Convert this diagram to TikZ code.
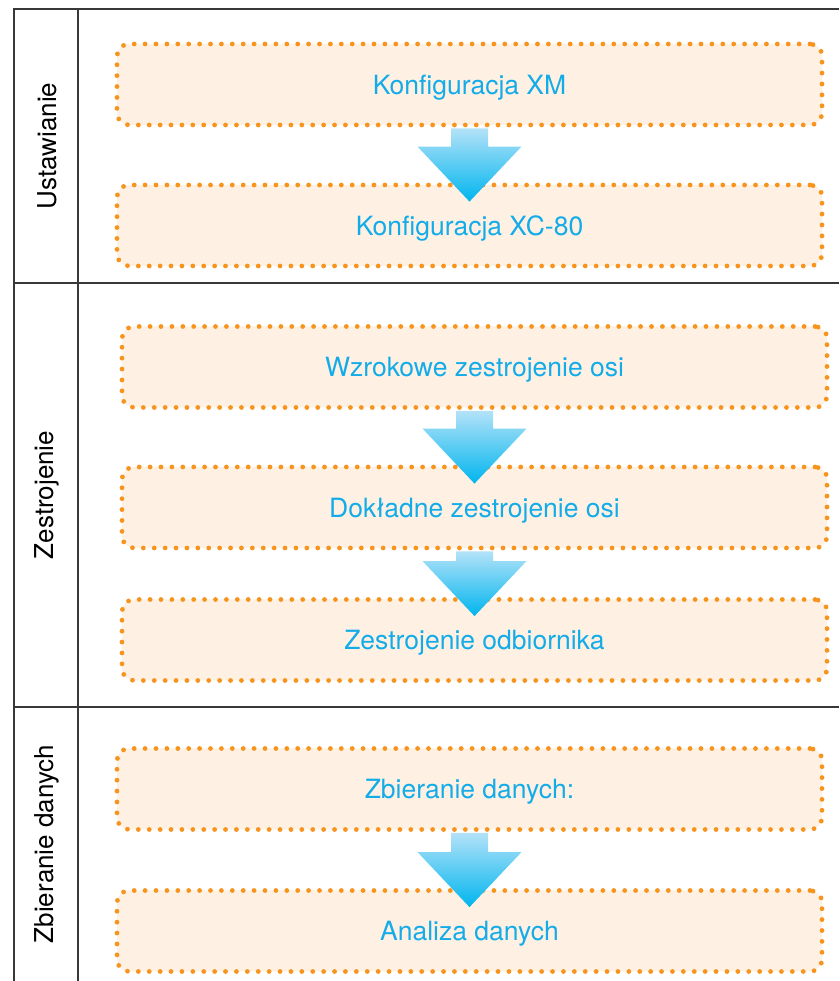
\documentclass[tikz,border=0pt]{standalone}
\usepackage{fontspec}
\setmainfont{TeX Gyre Heros}
\usetikzlibrary{calc}
\definecolor{boxfill}{HTML}{FEF1E3}
\definecolor{boxline}{HTML}{F7941D}
\definecolor{txtcyan}{HTML}{13ACE8}
\definecolor{arrtop}{HTML}{B3E2F8}
\definecolor{arrbot}{HTML}{00B5EE}
\definecolor{frameline}{HTML}{383838}
\tikzset{
  stepbox/.style={rectangle, rounded corners=12pt, fill=boxfill, draw=boxline,
    line width=4.8pt, dash pattern=on 0pt off 10.9pt, line cap=round,
    minimum width=705pt, minimum height=81pt, inner sep=0pt,
    text height=20pt, text depth=0pt,
    text=txtcyan, font=\fontsize{26.5}{31}\selectfont},
  lanelabel/.style={rotate=90, text=black, font=\fontsize{26}{31}\selectfont, inner sep=0pt},
  frame/.style={draw=frameline, line width=2pt},
  arrowshade/.style={top color=arrtop, bottom color=arrbot}
}
\newcommand{\flowarrow}[2]{%
  \shade[arrowshade]
    ($(#1.south)+(-18.5,-1)$) -- ($(#2.north)+(-18.5,36)$) -- ($(#2.north)+(-52,36)$)
    -- ($(#2.north)+(0,-19)$) -- ($(#2.north)+(52,36)$) -- ($(#2.north)+(18.5,36)$)
    -- ($(#1.south)+(18.5,-1)$) -- cycle;}
\begin{document}
\begin{tikzpicture}[x=1pt,y=1pt]
\useasboundingbox (0,0) rectangle (839,981);
% frame
\draw[frame] (14,0) -- (14,972) -- (839,972);
\draw[frame] (78,0) -- (78,972);
\draw[frame] (14,698) -- (839,698);
\draw[frame] (14,274) -- (839,274);
% lane labels
\node[lanelabel] (l1) at (47,835) {Ustawianie};
\node[lanelabel] (l2) at (47,486) {Zestrojenie};
\node[lanelabel] (l3) at (47,137) {Zbieranie danych};
% boxes
\node[stepbox] (b1) at (469.5,896.5) {Konfiguracja XM};
\node[stepbox] (b2) at (469.5,755.5) {Konfiguracja XC-80};
\node[stepbox] (b3) at (474.5,614) {Wzrokowe zestrojenie osi};
\node[stepbox] (b4) at (474.5,473.5) {Dokładne zestrojenie osi};
\node[stepbox] (b5) at (474.5,341) {Zestrojenie odbiornika};
\node[stepbox] (b6) at (469.5,192) {Zbieranie danych:};
\node[stepbox] (b7) at (469.5,50) {Analiza danych};
% arrows
\flowarrow{b1}{b2}
\flowarrow{b3}{b4}
\flowarrow{b4}{b5}
\flowarrow{b6}{b7}
\end{tikzpicture}
\end{document}
